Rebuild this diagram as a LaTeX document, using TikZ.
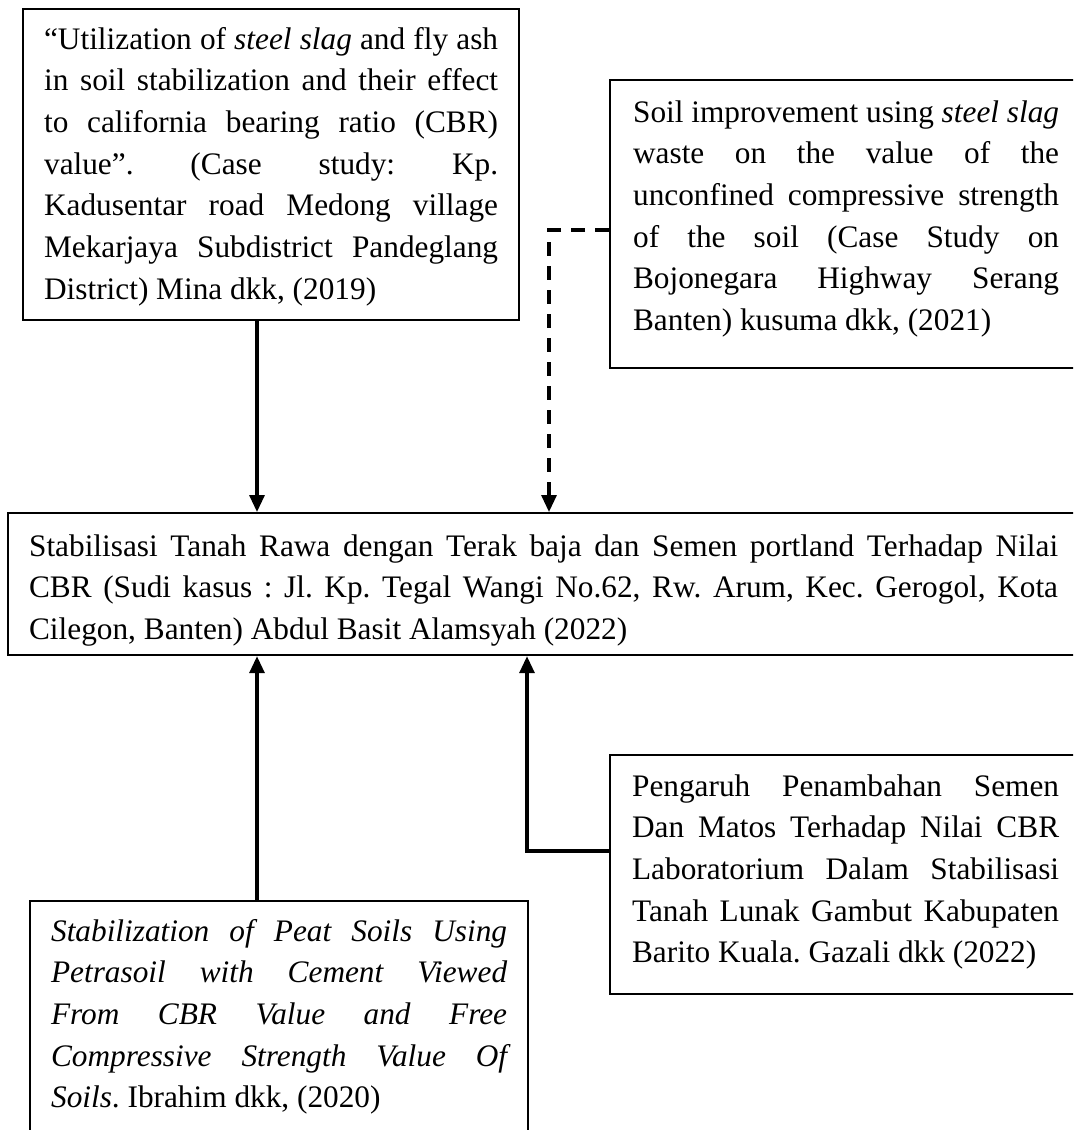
\documentclass[tikz,border=0pt]{standalone}
\usepackage{fontspec}
\setmainfont{Liberation Serif}
\usetikzlibrary{arrows.meta}
\hbadness=10000
\tolerance=10000
\hyphenpenalty=10000
\newcommand{\boxfont}{\fontsize{15.65pt}{20.85pt}\selectfont\frenchspacing}
\begin{document}
\begin{tikzpicture}[x=0.5pt,y=-0.5pt,
  box/.style={draw, line width=1.1pt, anchor=north west, inner ysep=0pt, align=justify,
    font=\boxfont},
  conn/.style={line width=1.6pt, -{Triangle[length=8.5pt,width=7.5pt]}},
  dashconn/.style={conn, dash pattern=on 7pt off 5pt}]
\fill[white] (0,0) rectangle (1073,1130);
\useasboundingbox (0,0) rectangle (1073,1130);
\clip (0,0) rectangle (1073,1130);

\node[box, inner xsep=10.5pt, text width=227pt, text height=20pt, text depth=135.5pt] (b1) at (22,8)
{“Utilization of \textit{steel slag} and fly ash\linebreak
in soil stabilization and their effect\linebreak
to california bearing ratio (CBR)\linebreak
value”. (Case study: Kp.\linebreak
Kadusentar road Medong village\linebreak
Mekarjaya Subdistrict Pandeglang\linebreak
District) Mina dkk, (2019)};

\node[box, inner xsep=11.5pt, text width=213pt, text height=21pt, text depth=123pt] (b2) at (609,79)
{Soil improvement using \textit{steel slag}\linebreak
waste on the value of the\linebreak
unconfined compressive strength\linebreak
of the soil (Case Study on\linebreak
Bojonegara Highway Serang\linebreak
Banten) kusuma dkk, (2021)};

\node[box, inner xsep=10.5pt, text width=514.5pt, text height=21.5pt, text depth=49.5pt] (main) at (7,512)
{Stabilisasi Tanah Rawa dengan Terak baja dan Semen portland Terhadap Nilai\linebreak
CBR (Sudi kasus : Jl. Kp. Tegal Wangi No.62, Rw. Arum, Kec. Gerogol, Kota\linebreak
Cilegon, Banten) Abdul Basit Alamsyah (2022)};

\node[box, inner xsep=11pt, text width=213.5pt, text height=20.5pt, text depth=99pt] (b4) at (609,754)
{Pengaruh Penambahan Semen\linebreak
Dan Matos Terhadap Nilai CBR\linebreak
Laboratorium Dalam Stabilisasi\linebreak
Tanah Lunak Gambut Kabupaten\linebreak
Barito Kuala. Gazali dkk (2022)};

\node[box, inner xsep=10.5pt, text width=228pt, text height=20pt, text depth=102.5pt] (b5) at (29,900)
{\textit{Stabilization of Peat Soils Using\linebreak
Petrasoil with Cement Viewed\linebreak
From CBR Value and Free\linebreak
Compressive Strength Value Of\linebreak
Soils}. Ibrahim dkk, (2020)};

\coordinate (c1) at (257,0);
\coordinate (d) at (549,230);
\coordinate (e) at (527,851);

\draw[conn] (b1.south -| c1) -- (main.north -| c1);
\draw[dashconn] (b2.west |- d) -- (d) -- (main.north -| d);
\draw[conn] (b5.north -| c1) -- (main.south -| c1);
\draw[conn] (b4.west |- e) -- (e) -- (main.south -| e);
\end{tikzpicture}
\end{document}
